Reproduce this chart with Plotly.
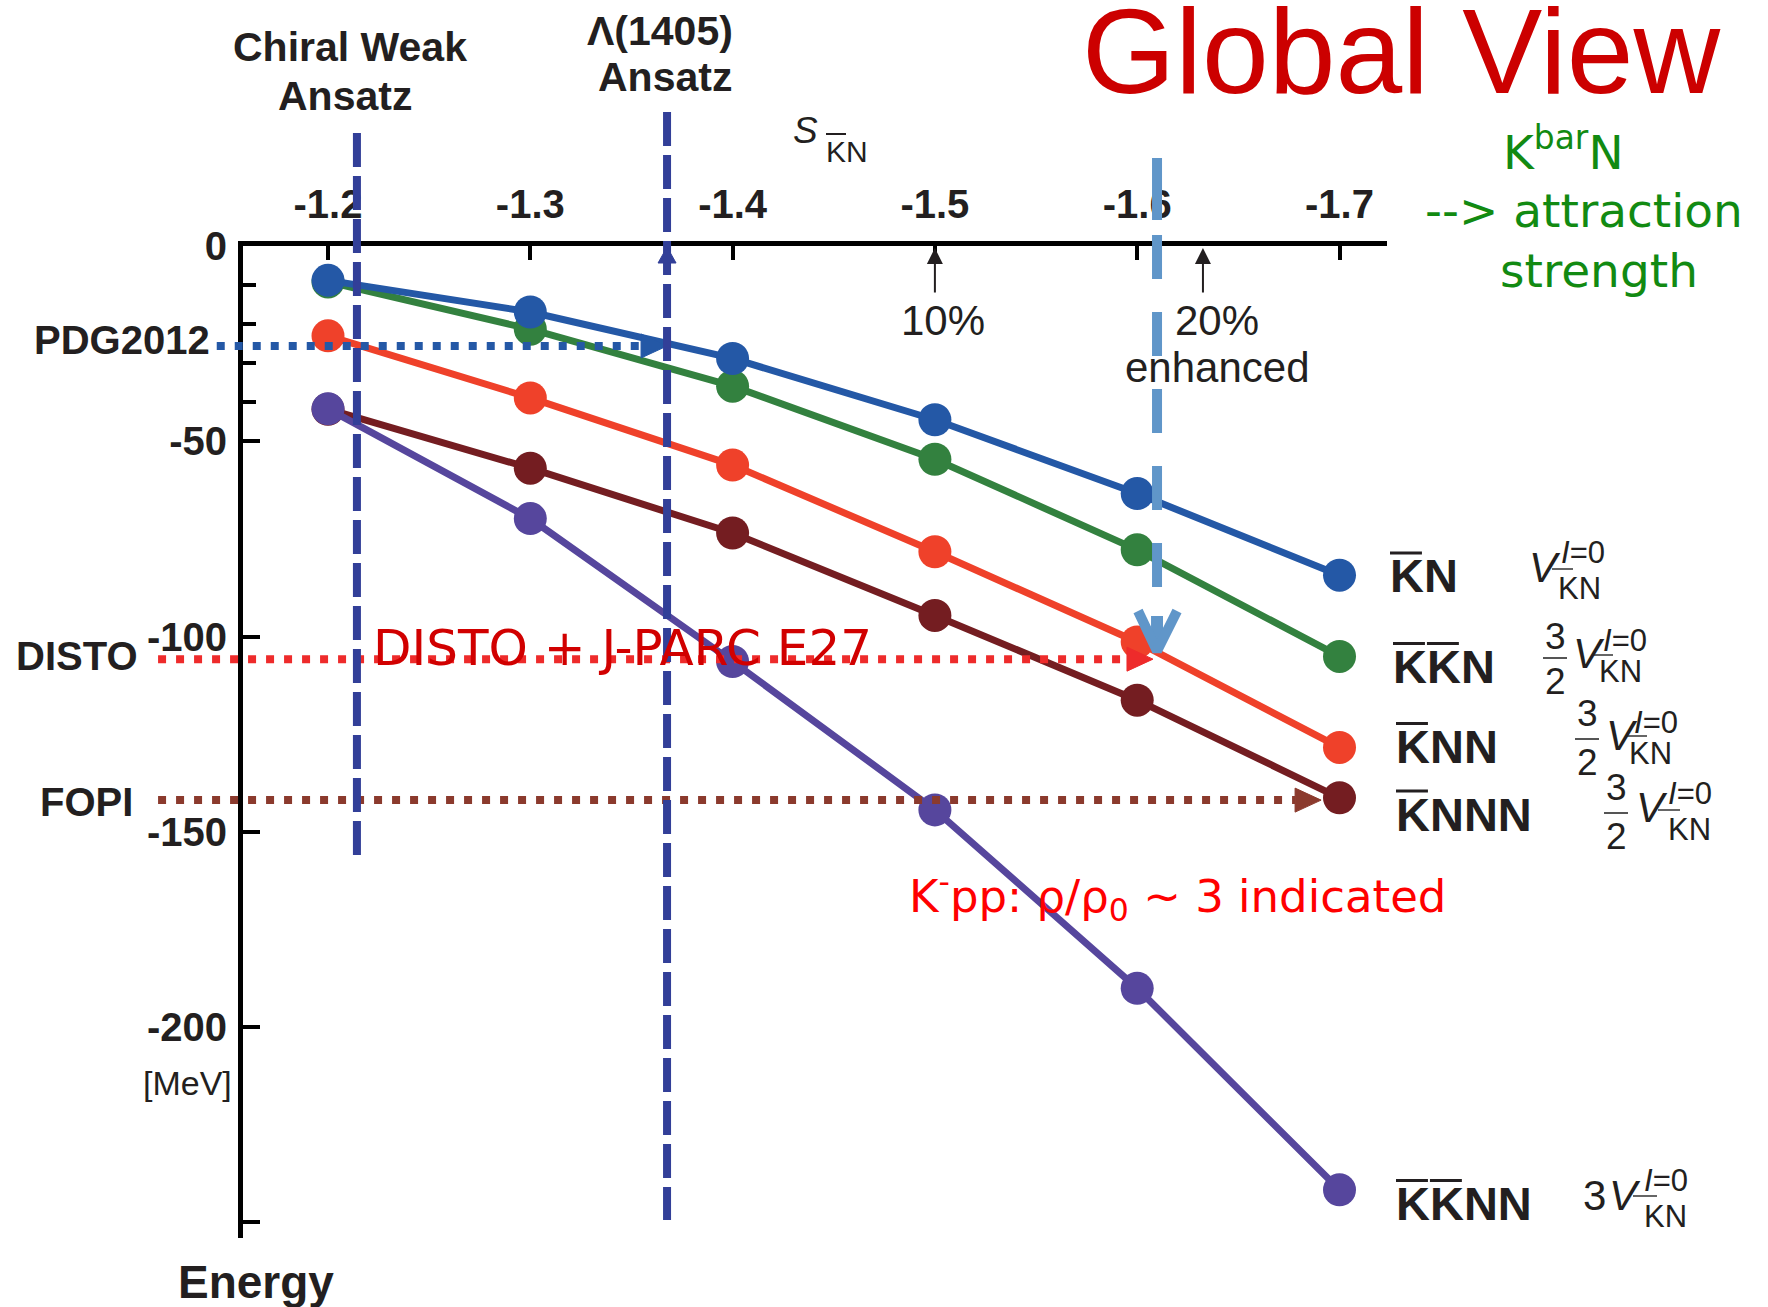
import plotly.graph_objects as go

W, H = 1768, 1307

# ---------------- values ----------------
s_kn = [-1.2, -1.3, -1.4, -1.5, -1.6, -1.7]
s_tick_text = ["-1.2", "-1.3", "-1.4", "-1.5", "-1.6", "-1.7"]

energy_ticks = [0, -50, -100, -150, -200, -250]
energy_tick_text = ["0", "-50", "-100", "-150", "-200", ""]
energy_minor_ticks = [-10, -20, -30, -40]

E_KN = [-8.8, -16.9, -28.8, -44.5, -63.4, -84.3]
E_KKN = [-9.2, -21.3, -35.9, -54.6, -77.8, -105.1]
E_KNN = [-23.0, -38.9, -56.1, -78.3, -101.4, -128.4]
E_KNNN = [-41.8, -56.9, -73.5, -94.6, -116.3, -141.3]
E_KKNN = [-41.7, -69.8, -106.4, -144.4, -190.1, -241.7]

ref_names = ["PDG2012", "DISTO", "FOPI"]
ref_E = [-25.6, -105.8, -141.9]
ref_start_s = [-1.145, -1.116, -1.116]
ref_tip_s = [-1.3676, -1.6078, -1.6909]

ansatz_s = [-1.2143, -1.3676]
enhanced_s = -1.6098
pct_labels = ["10%", "20%"]
pct_s = [-1.5, -1.6325]

# ---------------- styles ----------------
INK = "#231f20"
SANS = "Liberation Sans"
HAND = "DejaVu Sans"
C_KN, C_KKN, C_KNN, C_KNNN, C_KKNN = "#2458a6", "#33813f", "#ef412a", "#741d21", "#56469d"
REF_COLORS = ["#2458a6", "#ee2b2b", "#8b3a2d"]
DASH_BLUE = "#323f98"
LIGHT_BLUE = "#6096c9"

# pixel calibration of the coordinate system
PX0, PX_PER = 328.0, 2023.0   # column of s=-1.2, pixels per unit of s (s decreases to the right)
PY0, PY_PER = 246.0, 3.905    # row of E=0, pixels per MeV


def px_s(px):
    return -1.2 - (px - PX0) / PX_PER


def py_e(py):
    return -(py - PY0) / PY_PER


FL, FR, FT, FB = 243, 1387, 246, 1238  # axis frame

fig = go.Figure()

# ---------------- energy curves ----------------
for name, vals, col in [("KKN", E_KKN, C_KKN), ("KN", E_KN, C_KN), ("KNN", E_KNN, C_KNN),
                        ("KNNN", E_KNNN, C_KNNN), ("KKNN", E_KKNN, C_KKNN)]:
    fig.add_trace(go.Scatter(x=s_kn, y=vals, name=name, mode="lines+markers",
                             line=dict(color=col, width=7),
                             marker=dict(color=col, size=33),
                             cliponaxis=False, xaxis="x", yaxis="y", hoverinfo="skip"))


def deco(xs, ys, **kw):
    fig.add_trace(go.Scatter(x=xs, y=ys, xaxis="x2", yaxis="y2", hoverinfo="skip",
                             showlegend=False, cliponaxis=False, **kw))


# reference binding energies with arrows
for E, s0, tip, col in zip(ref_E, ref_start_s, ref_tip_s, REF_COLORS):
    base = tip + 26 / PX_PER
    deco([s0, base], [E, E], mode="lines", line=dict(color=col, width=8, dash="8px,10px"))
    h = 12 / PY_PER
    deco([base, base, tip, base], [E + h, E - h, E, E + h], mode="lines", fill="toself",
         fillcolor=col, line=dict(color=col, width=1))

# ansatz markers
for s, top, bot in zip(ansatz_s, [133, 112], [863, 1220]):
    deco([s, s], [py_e(top), py_e(bot)], mode="lines",
         line=dict(color=DASH_BLUE, width=8, dash="34px,9px"))
s_l = ansatz_s[1]
deco([s_l + 9 / PX_PER, s_l - 9 / PX_PER, s_l, s_l + 9 / PX_PER],
     [py_e(263), py_e(263), py_e(247), py_e(263)], mode="lines", fill="toself",
     fillcolor=DASH_BLUE, line=dict(color=DASH_BLUE, width=1))

# enhanced attraction marker
deco([enhanced_s, enhanced_s], [py_e(158), py_e(588)], mode="lines",
     line=dict(color=LIGHT_BLUE, width=10,
               dash="62px,15px,44px,33px,44px,33px,44px,33px,44px,33px,44px,200px"))
deco([enhanced_s, enhanced_s], [py_e(616), py_e(646)], mode="lines",
     line=dict(color=LIGHT_BLUE, width=12))
deco([enhanced_s + 19 / PX_PER, enhanced_s, enhanced_s - 20 / PX_PER],
     [py_e(611), py_e(651), py_e(611)], mode="lines", line=dict(color=LIGHT_BLUE, width=10))

# percentage arrows
for s in pct_s:
    fig.add_annotation(x=s, y=0, xref="x2", yref="y2", ax=0, ay=48, text="",
                       showarrow=True, arrowhead=2, arrowsize=1.6, arrowwidth=2,
                       arrowcolor=INK, standoff=2)


# ---------------- text ----------------
def text(t, px, py, size, color=INK, bold=False, italic=False, family=SANS, anchor="center"):
    fig.add_annotation(xref="paper", yref="paper", x=px / W, y=1 - py / H, text=t,
                       showarrow=False, xanchor=anchor, yanchor="middle", borderpad=0,
                       font=dict(family=family, size=size, color=color,
                                 weight=700 if bold else 400,
                                 style="italic" if italic else "normal"))


shapes = []


def bar(x0, x1, py, width=2.5, color=INK):
    shapes.append(dict(type="line", xref="paper", yref="paper", x0=x0 / W, x1=x1 / W,
                       y0=1 - py / H, y1=1 - py / H, layer="above",
                       line=dict(color=color, width=width)))


text("PDG2012", 121.5, 340, 40, bold=True)
text("DISTO", 77, 656, 40, bold=True)
text("FOPI", 86.5, 802, 40, bold=True)
text("[MeV]", 187, 1083, 34)
text("Energy", 256, 1282, 46, bold=True)

text("Chiral Weak", 350, 47, 41, bold=True)
text("Ansatz", 345, 96, 41, bold=True)
text("Λ(1405)", 660, 31, 41, bold=True)
text("Ansatz", 665, 77, 41, bold=True)

text("S", 792, 130, 37, italic=True, anchor="left")
text("KN", 825, 151, 30, anchor="left")
bar(826, 846, 134, width=2)

text("Global View", 1401, 51, 120, color="#cc0000")

GREEN = "#128a12"
text("K<sup>bar</sup>N", 1502, 149, 47, color=GREEN, family=HAND, anchor="left")
text("--> attraction", 1424, 210, 47, color=GREEN, family=HAND, anchor="left")
text("strength", 1499, 271, 47, color=GREEN, family=HAND, anchor="left")

for lab, s in zip(pct_labels, pct_s):
    text(lab, PX0 + (-1.2 - s) * PX_PER + 8 + (6 if lab == "20%" else 0), 320, 42)
text("enhanced", 1217, 367, 42)

text("DISTO + J-PARC E27", 372, 648, 50, color="#d10000", family=HAND, anchor="left")
text("K<sup>-</sup>pp: ρ/ρ<sub>0</sub> ~ 3 indicated", 908, 896, 45, color="#ff0000",
     family=HAND, anchor="left")

# series names on the right, overlined antikaons
K_W = 0.722 * 47
rows = [("KN", [0], 1389, 576), ("KKN", [0, 1], 1392, 666.5), ("KNN", [0], 1395, 746.5),
        ("KNNN", [0], 1395, 814), ("KKNN", [0, 1], 1395, 1203.5)]
for lab, barred, left, cy in rows:
    text(lab, left, cy, 47, bold=True, anchor="left")
    for k in barred:
        bar(left + k * K_W + 1, left + (k + 1) * K_W - 1, cy - 23, width=3)

# coupling strengths
coef = [
    (None, (1528, 567), (1560, 552), (1557, 588), (1552, 1573, 569)),
    ((1555, 636.5, 658, 681), (1572, 653.5), (1602, 641), (1598, 671), (1593, 1613, 655)),
    ((1587, 713.5, 739, 762.5), (1605, 735), (1633, 722), (1628, 753.5), (1625, 1647, 736)),
    ((1616, 787.5, 813, 836), (1635, 807.5), (1667, 793.5), (1667, 829), (1658, 1680, 810)),
]
for frac, v, sup, sub, sb in coef:
    if frac is not None:
        cx, ny, by, dy = frac
        text("3", cx, ny, 37)
        text("2", cx, dy, 37)
        bar(cx - 12, cx + 12, by, width=2, color="#555")
    text("V", v[0], v[1], 42, italic=True, anchor="left")
    text("<i>I</i>=0", sup[0], sup[1], 31, anchor="left")
    text("KN", sub[0], sub[1], 31, anchor="left")
    bar(sb[0], sb[1], sb[2], width=2, color="#666")
text("3", 1582, 1195, 42, anchor="left")
text("V", 1608, 1195, 42, italic=True, anchor="left")
text("<i>I</i>=0", 1643, 1180, 31, anchor="left")
text("KN", 1643, 1216, 31, anchor="left")
bar(1633, 1657, 1196, width=2, color="#666")

tickfont = dict(family=SANS, size=40, color=INK, weight=700)
fig.update_layout(
    width=W, height=H, margin=dict(l=0, r=0, t=0, b=0, autoexpand=False),
    paper_bgcolor="white", plot_bgcolor="rgba(0,0,0,0)", showlegend=False,
    shapes=shapes,
    xaxis=dict(domain=[FL / W, FR / W], range=[px_s(FL), px_s(FR)], side="top", anchor="y",
               showline=True, linecolor="black", linewidth=5, ticks="inside", ticklen=14,
               tickwidth=4, tickcolor="black", tickvals=s_kn, ticktext=s_tick_text,
               tickfont=tickfont, showgrid=False, zeroline=False, ticklabelstandoff=7,
               automargin=False),
    yaxis=dict(domain=[1 - FB / H, 1 - FT / H], range=[py_e(FB), py_e(FT)], anchor="x",
               showline=True, linecolor="black", linewidth=5, ticks="inside", ticklen=17,
               tickwidth=4, tickcolor="black", tickvals=energy_ticks,
               ticktext=energy_tick_text, tickfont=tickfont, showgrid=False,
               zeroline=False, ticklabelstandoff=3, automargin=False,
               minor=dict(tickvals=energy_minor_ticks, ticks="inside", ticklen=13,
                          tickwidth=4, tickcolor="black")),
    xaxis2=dict(domain=[0, 1], range=[px_s(0), px_s(W)], anchor="y2", visible=False,
                automargin=False),
    yaxis2=dict(domain=[0, 1], range=[py_e(H), py_e(0)], anchor="x2", visible=False,
                automargin=False),
)

fig.write_html("out.html")
